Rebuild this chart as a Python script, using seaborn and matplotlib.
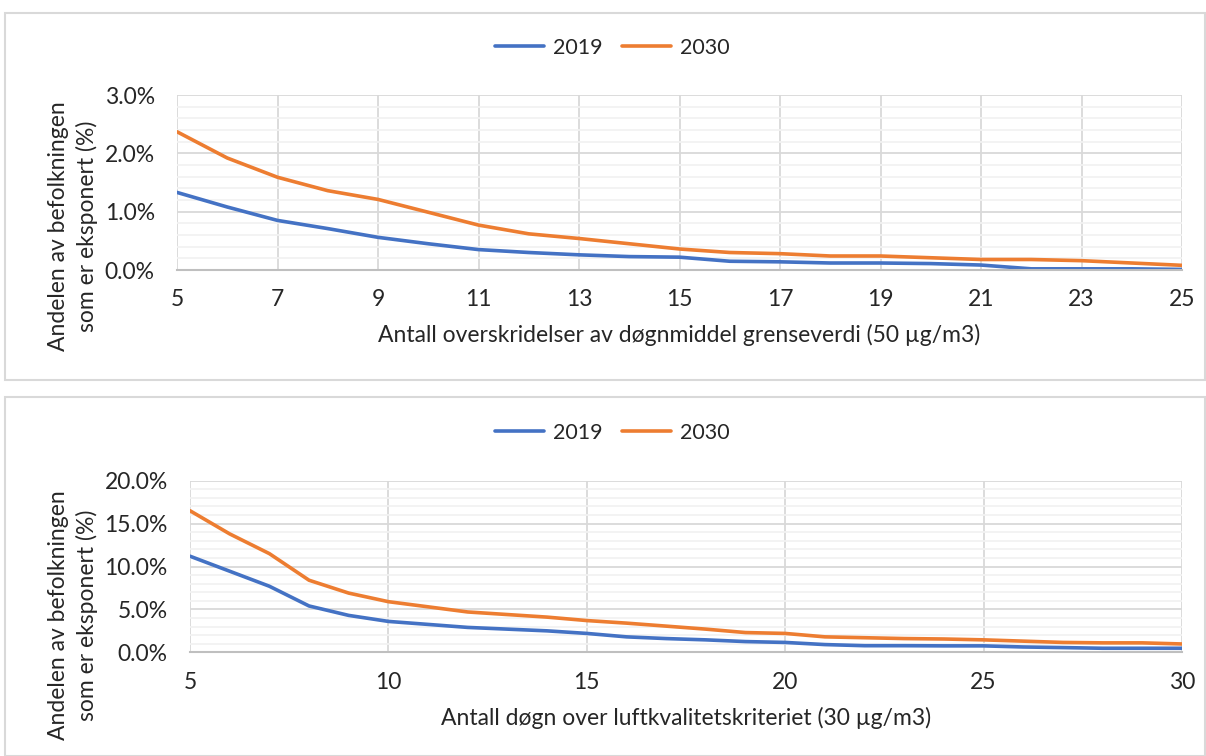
import numpy as np
import pandas as pd
import matplotlib
matplotlib.use("Agg")
import matplotlib.pyplot as plt
import seaborn as sns
from matplotlib.patches import Rectangle
from matplotlib.ticker import FuncFormatter, MultipleLocator

# ---- data ----
x_top = list(range(5, 26))
top_2019 = [1.33, 1.08, 0.85, 0.71, 0.56, 0.45, 0.35, 0.30, 0.26, 0.23, 0.22,
            0.15, 0.14, 0.12, 0.12, 0.11, 0.085, 0.02, 0.02, 0.02, 0.01]
top_2030 = [2.37, 1.92, 1.59, 1.36, 1.21, 0.99, 0.77, 0.62, 0.54, 0.45, 0.36,
            0.30, 0.28, 0.24, 0.24, 0.21, 0.18, 0.18, 0.16, 0.12, 0.08]
xticks_top = [5, 7, 9, 11, 13, 15, 17, 19, 21, 23, 25]

x_bot = list(range(5, 31))
bot_2019 = [11.2, 9.45, 7.7, 5.4, 4.3, 3.6, 3.25, 2.9, 2.7, 2.5, 2.2, 1.8, 1.6,
            1.45, 1.25, 1.15, 0.9, 0.77, 0.77, 0.75, 0.75, 0.62, 0.55, 0.47, 0.47, 0.47]
bot_2030 = [16.5, 13.8, 11.5, 8.4, 6.9, 5.9, 5.3, 4.7, 4.4, 4.1, 3.7, 3.4, 3.05,
            2.7, 2.3, 2.2, 1.8, 1.7, 1.6, 1.55, 1.45, 1.3, 1.15, 1.1, 1.1, 0.97]
xticks_bot = [5, 10, 15, 20, 25, 30]

series_names = ["2019", "2030"]
colors = {"2019": "#4472C4", "2030": "#ED7D31"}
ylabel = "Andelen av befolkningen\nsom er eksponert (%)"
xlabel_top = "Antall overskridelser av døgnmiddel grenseverdi (50 µg/m3)"
xlabel_bot = "Antall døgn over luftkvalitetskriteriet (30 µg/m3)"

sns.set_theme(style="white")
plt.rcParams["font.family"] = ["Lato", "DejaVu Sans"]

FS = 16.5
FS_LEG = 15.5
TXT = "#262626"
W, H = 1206, 756

fig = plt.figure(figsize=(12.06, 7.56), dpi=100)

# panel borders
for (y0, h) in [(1 - 380 / H, (380 - 13) / H), (0.0, (H - 397) / H)]:
    fig.patches.append(Rectangle((5 / W, y0), 1 - 6 / W, h, transform=fig.transFigure,
                                 fill=False, edgecolor="#D9D9D9", linewidth=1.5, zorder=0))


def make_df(x, a, b):
    return pd.DataFrame({
        "x": list(x) * 2,
        "y": list(a) + list(b),
        "serie": [series_names[0]] * len(x) + [series_names[1]] * len(x),
    })


def style_axes(ax, xticks, ymax, ymajor, yminor):
    ax.set_xlim(xticks[0], xticks[-1])
    ax.set_ylim(0, ymax)
    ax.set_xticks(xticks)
    ax.yaxis.set_major_locator(MultipleLocator(ymajor))
    ax.yaxis.set_minor_locator(MultipleLocator(yminor))
    ax.yaxis.set_major_formatter(FuncFormatter(lambda v, p: f"{v:.1f}%"))
    ax.grid(which="major", axis="both", color="#D9D9D9", linewidth=1.3, zorder=0)
    ax.grid(which="minor", axis="y", color="#F2F2F2", linewidth=1.3, zorder=0)
    ax.set_axisbelow(True)
    for s in ["top", "right", "left"]:
        ax.spines[s].set_visible(False)
    ax.spines["bottom"].set_color("#BFBFBF")
    ax.spines["bottom"].set_linewidth(1.5)
    ax.tick_params(axis="both", which="both", length=0, labelsize=FS, colors=TXT)
    ax.tick_params(axis="x", pad=14)
    ax.tick_params(axis="y", pad=16)
    ax.set_ylabel("")


def add_legend(ax, cx, cy):
    leg = ax.legend(loc="center", bbox_to_anchor=(cx / W, 1 - cy / H),
                    bbox_transform=fig.transFigure, ncol=2, frameon=False, fontsize=FS_LEG,
                    handlelength=2.3, columnspacing=0.9, handletextpad=0.4)
    for l in leg.get_lines():
        l.set_linewidth(2.6)
    for t in leg.get_texts():
        t.set_color(TXT)


# top chart
ax1 = fig.add_axes([177 / W, 1 - 270 / H, (1182 - 177) / W, (270 - 95) / H])
sns.lineplot(data=make_df(x_top, top_2019, top_2030), x="x", y="y", hue="serie",
             palette=colors, linewidth=2.6, ax=ax1, legend=True)
style_axes(ax1, xticks_top, 3.0, 1.0, 0.2)
ax1.set_xlabel(xlabel_top, fontsize=FS, color=TXT, labelpad=10)
add_legend(ax1, 612, 48)
fig.text(73 / W, 1 - 226 / H, ylabel, rotation=90, ha="center", va="center",
         multialignment="center", fontsize=FS, color=TXT, linespacing=1.4)

# bottom chart
ax2 = fig.add_axes([190 / W, 1 - 652.3 / H, (1182 - 190) / W, (652.3 - 480.7) / H])
sns.lineplot(data=make_df(x_bot, bot_2019, bot_2030), x="x", y="y", hue="serie",
             palette=colors, linewidth=2.6, ax=ax2, legend=True)
style_axes(ax2, xticks_bot, 20.0, 5.0, 1.0)
ax2.set_xlabel(xlabel_bot, fontsize=FS, color=TXT, labelpad=10)
add_legend(ax2, 612, 433)
fig.text(73 / W, 1 - 615 / H, ylabel, rotation=90, ha="center", va="center",
         multialignment="center", fontsize=FS, color=TXT, linespacing=1.4)

fig.savefig("out.png", dpi=100, facecolor="white")
